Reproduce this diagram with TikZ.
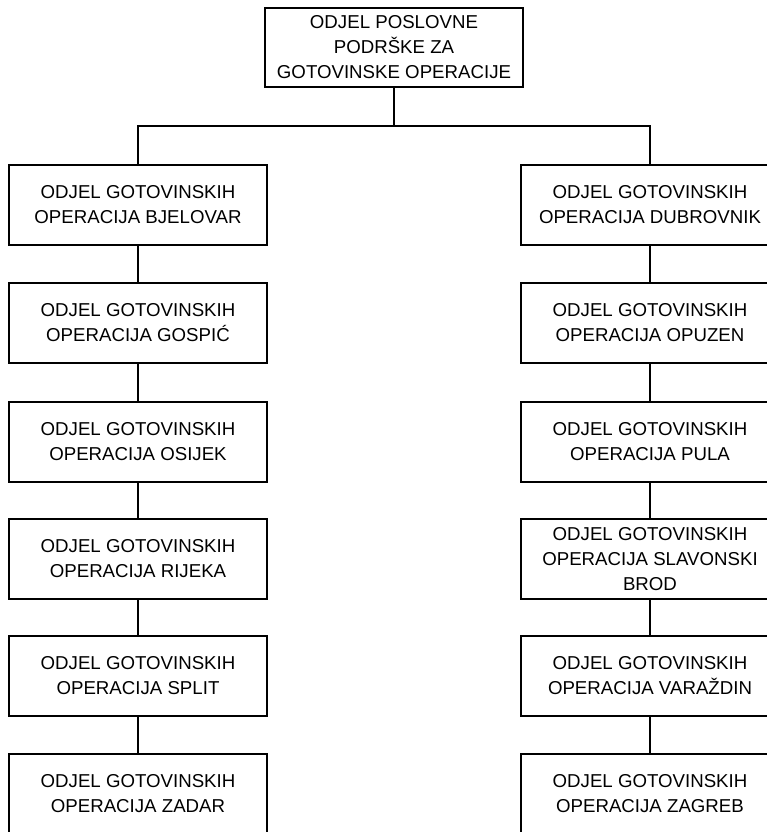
\documentclass[tikz,border=0pt]{standalone}
\usepackage{fontspec}
\setmainfont{Liberation Sans}
\begin{document}
\begin{tikzpicture}[x=0.75pt,y=-0.75pt,
  unit/.style={draw,line width=1.5pt,minimum width=193.5pt,minimum height=60pt,
    inner sep=1pt,align=center,font=\fontsize{14}{18.8}\selectfont},
  link/.style={line width=1.5pt}]
\useasboundingbox[fill=white](0,0)rectangle(767,832);
\node[unit,minimum height=59.25pt](top)at(394,47.5){ODJEL POSLOVNE\\PODRŠKE ZA\\GOTOVINSKE OPERACIJE};
\coordinate(bus)at(394,126);
% left column
\node[unit](l1)at(138,205){ODJEL GOTOVINSKIH\\OPERACIJA BJELOVAR};
\node[unit](l2)at(138,323){ODJEL GOTOVINSKIH\\OPERACIJA GOSPIĆ};
\node[unit](l3)at(138,442){ODJEL GOTOVINSKIH\\OPERACIJA OSIJEK};
\node[unit](l4)at(138,559){ODJEL GOTOVINSKIH\\OPERACIJA RIJEKA};
\node[unit](l5)at(138,676){ODJEL GOTOVINSKIH\\OPERACIJA SPLIT};
\node[unit](l6)at(138,794){ODJEL GOTOVINSKIH\\OPERACIJA ZADAR};
% right column
\node[unit](r1)at(650,205){ODJEL GOTOVINSKIH\\OPERACIJA DUBROVNIK};
\node[unit](r2)at(650,323){ODJEL GOTOVINSKIH\\OPERACIJA OPUZEN};
\node[unit](r3)at(650,442){ODJEL GOTOVINSKIH\\OPERACIJA PULA};
\node[unit](r4)at(650,559){ODJEL GOTOVINSKIH\\OPERACIJA SLAVONSKI\\BROD};
\node[unit](r5)at(650,676){ODJEL GOTOVINSKIH\\OPERACIJA VARAŽDIN};
\node[unit](r6)at(650,794){ODJEL GOTOVINSKIH\\OPERACIJA ZAGREB};
\draw[link](top.south)--(bus);
\draw[link](l1.north)|-(bus)-|(r1.north);
\draw[link](l1)--(l2);
\draw[link](l2)--(l3);
\draw[link](l3)--(l4);
\draw[link](l4)--(l5);
\draw[link](l5)--(l6);
\draw[link](r1)--(r2);
\draw[link](r2)--(r3);
\draw[link](r3)--(r4);
\draw[link](r4)--(r5);
\draw[link](r5)--(r6);
\end{tikzpicture}
\end{document}
